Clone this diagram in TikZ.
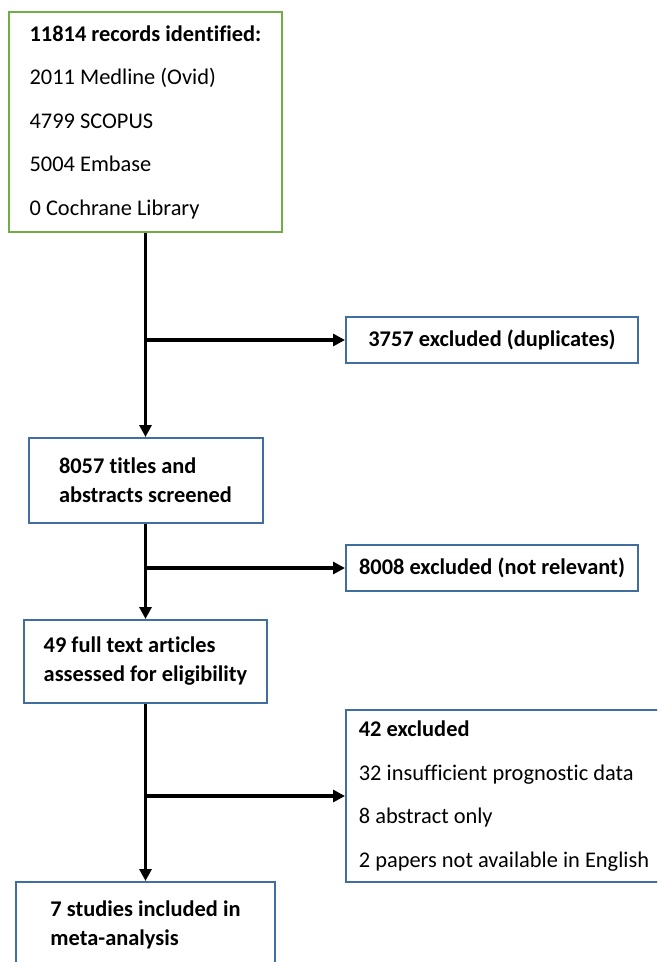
\documentclass[tikz,border=0pt]{standalone}
\usepackage{fontspec}
\setmainfont{Carlito}[Ligatures=NoCommon]
\usetikzlibrary{arrows.meta,positioning}
\definecolor{prgreen}{RGB}{112,173,71}
\definecolor{prblue}{RGB}{65,110,160}

\begin{document}
\begin{tikzpicture}[
  x=1pt,y=-1pt,
  every node/.style={font=\fontsize{22.4}{29}\selectfont},
  box/.style={draw=prblue,line width=2pt,fill=white,align=left,inner sep=0pt},
  srcbox/.style={box,draw=prgreen},
  arr/.style={-{Triangle[length=12pt,width=12pt]},line width=3.5pt,black}
]
\clip (0,0) rectangle (657,962);
\useasboundingbox (0,0) rectangle (657,962);

% Main column
\node[srcbox,minimum width=273pt,minimum height=220pt] (src) at (145.5,122)
  {\textbf{11814 records identified:}\\[14.5pt]2011 Medline (Ovid)\\[14.5pt]4799 SCOPUS\\[14.5pt]5004 Embase\\[14.5pt]0 Cochrane Library};
\node[box,minimum width=234pt,minimum height=85pt] (scr) at (145.5,480.5)
  {\textbf{8057 titles and}\\\textbf{abstracts screened}};
\node[box,minimum width=243pt,minimum height=83pt] (full) at (145.5,661.5)
  {\textbf{49 full text articles}\\\textbf{assessed for eligibility}};
\node[box,minimum width=259pt,minimum height=86pt] (incl) at (145.5,925)
  {\textbf{7 studies included in}\\\textbf{meta-analysis}};

% Exclusions
\node[box,minimum width=292pt,minimum height=46pt] (dup) at (492,340)
  {\textbf{3757 excluded (duplicates)}};
\node[box,minimum width=292pt,minimum height=46pt] (nrel) at (492,568)
  {\textbf{8008 excluded (not relevant)}};
\node[box,minimum width=316pt,minimum height=172pt] (excl) at (504,796)
  {\textbf{42 excluded}\\[14.5pt]32 insufficient prognostic data\\[14.5pt]8 abstract only\\[14.5pt]2 papers not available in English};

\draw[arr] (src) -- (scr);
\draw[arr] (scr) -- (full);
\draw[arr] (full) -- (incl);

\coordinate (b1) at (src.south |- dup.west);
\coordinate (b2) at (scr.south |- nrel.west);
\coordinate (b3) at (full.south |- excl.west);
\draw[arr] (b1) -- (dup);
\draw[arr] (b2) -- (nrel);
\draw[arr] (b3) -- (excl);
\end{tikzpicture}
\end{document}
